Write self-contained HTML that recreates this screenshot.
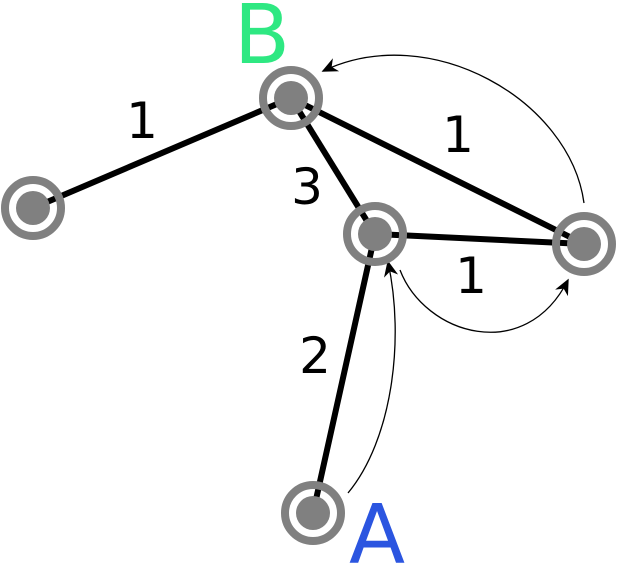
<!DOCTYPE html>
<html><head><style>html,body{margin:0;padding:0;background:#fff;}svg{display:block}</style></head>
<body>
<svg width="617" height="563" viewBox="0 0 617 563" xmlns="http://www.w3.org/2000/svg">
<defs>
<marker id="ah" viewBox="0 0 10 10" refX="9" refY="5" markerWidth="16" markerHeight="16" markerUnits="userSpaceOnUse" orient="auto">
<path d="M0,0.5 L10,5 L0,9.5 L3,5 z" fill="#000"/>
</marker>
</defs>
<g stroke="#000" stroke-width="6" stroke-linecap="butt">
<line x1="33" y1="208" x2="291" y2="98"/>
<line x1="291" y1="98" x2="584" y2="244"/>
<line x1="291" y1="98" x2="375" y2="234"/>
<line x1="375" y1="234" x2="584" y2="244"/>
<line x1="375" y1="234" x2="313" y2="513"/>
</g>
<g fill="none" stroke="#000" stroke-width="1.3">
<path d="M584,203 C570,100 430,20 323,71" marker-end="url(#ah)"/>
<path d="M400,270 C425,335 525,365 568,280" marker-end="url(#ah)"/>
<path d="M348,493 C392,440 405,340 388,262" marker-end="url(#ah)"/>
</g>
<g fill="none" stroke="#808080" stroke-width="8">
<circle cx="291" cy="98" r="28"/>
<circle cx="33" cy="208" r="28"/>
<circle cx="375" cy="234" r="28"/>
<circle cx="584" cy="244" r="28"/>
<circle cx="313" cy="513" r="28"/>
</g>
<g fill="#808080">
<circle cx="291" cy="98" r="17"/>
<circle cx="33" cy="208" r="17"/>
<circle cx="375" cy="234" r="17"/>
<circle cx="584" cy="244" r="17"/>
<circle cx="313" cy="513" r="17"/>
</g>
<g font-family="DejaVu Sans, Liberation Sans, sans-serif" text-anchor="middle">
<text x="262" y="63" font-size="82" fill="#2ee882">B</text>
<text x="377" y="563" font-size="82" fill="#2b55e0">A</text>
<g font-size="50" fill="#000">
<text x="142" y="138">1</text>
<text x="458" y="152">1</text>
<text x="307" y="204">3</text>
<text x="471" y="293">1</text>
<text x="315" y="373">2</text>
</g>
</g>
</svg>
</body></html>
